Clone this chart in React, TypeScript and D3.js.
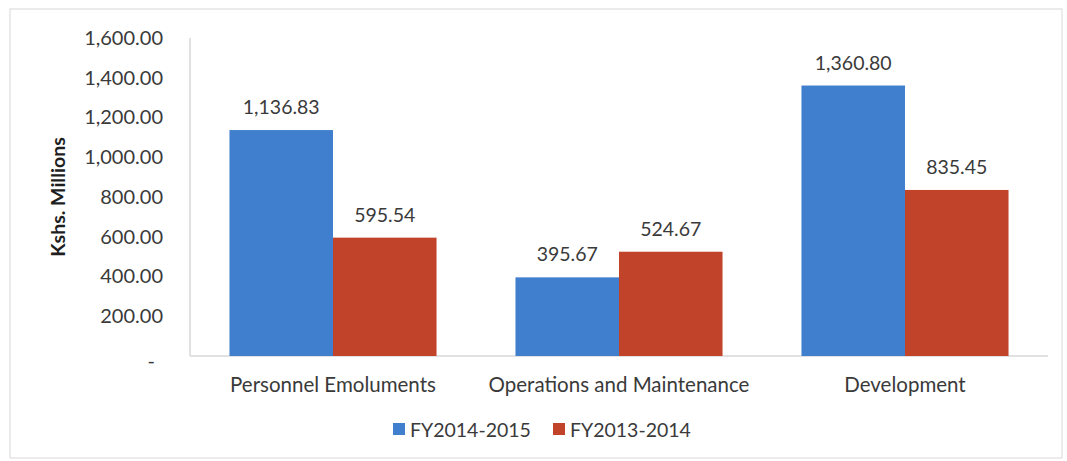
import React, { useEffect, useRef } from 'react';
import * as d3 from 'd3';

const categories = ['Personnel Emoluments', 'Operations and Maintenance', 'Development'];
const seriesNames = ['FY2014-2015', 'FY2013-2014'];
const fy2015 = [1136.83, 395.67, 1360.8];
const fy2014 = [595.54, 524.67, 835.45];
const yTicks = [0, 200, 400, 600, 800, 1000, 1200, 1400, 1600];
const colors = ['#3f7fcd', '#c1432a'];

const FONT = 'Lato, "Open Sans", sans-serif';

function BarChart({ width = 1067, height = 461 }) {
    const ref = useRef<SVGSVGElement>(null);

    useEffect(() => {
        const svg = d3.select(ref.current);
        svg.selectAll('*').remove();

        const left = 190, right = 1048, top = 38, bottom = 356;

        // outer frame
        svg.append('rect')
            .attr('x', 10).attr('y', 9)
            .attr('width', 1052).attr('height', 449)
            .attr('fill', '#fff')
            .attr('stroke', '#d8d8d8')
            .attr('stroke-width', 1);

        const y = d3.scaleLinear().domain([0, 1600]).range([bottom, top]);
        const x0 = d3.scaleBand().domain(categories).range([left, right])
            .paddingInner(0.276).paddingOuter(0.138);
        const x1 = d3.scaleBand().domain(seriesNames).range([0, x0.bandwidth()]);

        const rows = categories.map((c, i) => ({ cat: c, vals: [fy2015[i], fy2014[i]] }));

        // y axis labels
        const yAxis = d3.axisLeft(y).tickValues(yTicks).tickSize(0).tickPadding(27)
            .tickFormat(d => (+d === 0 ? '-' : d3.format(',.2f')(+d)));
        const ya = svg.append('g').attr('transform', `translate(${left},0)`).call(yAxis);
        ya.select('.domain').remove();
        ya.selectAll('text')
            .style('font-family', FONT).style('font-size', '20px').attr('fill', '#3a3a3a');
        ya.selectAll('.tick').filter(d => +d === 0).select('text')
            .attr('dy', '0.55em').attr('x', -35);

        // axis lines
        svg.append('line').attr('x1', left).attr('x2', left).attr('y1', top).attr('y2', bottom)
            .attr('stroke', '#c4c4c4');
        svg.append('line').attr('x1', left).attr('x2', right).attr('y1', bottom).attr('y2', bottom)
            .attr('stroke', '#c4c4c4');

        // bars
        const groups = svg.selectAll('g.cat').data(rows).enter().append('g')
            .attr('class', 'cat')
            .attr('transform', d => `translate(${x0(d.cat)},0)`);

        groups.selectAll('rect')
            .data(d => d.vals.map((v, i) => ({ key: seriesNames[i], v, i })))
            .enter().append('rect')
            .attr('x', d => x1(d.key))
            .attr('y', d => y(d.v))
            .attr('width', x1.bandwidth())
            .attr('height', d => bottom - y(d.v))
            .attr('fill', d => colors[d.i]);

        groups.selectAll('text.val')
            .data(d => d.vals.map((v, i) => ({ key: seriesNames[i], v })))
            .enter().append('text')
            .attr('class', 'val')
            .attr('x', d => x1(d.key) + x1.bandwidth() / 2)
            .attr('y', d => y(d.v) - 16)
            .attr('text-anchor', 'middle')
            .style('font-family', FONT).style('font-size', '19.5px')
            .attr('fill', '#3a3a3a')
            .text(d => d3.format(',.2f')(d.v));

        // category labels
        svg.selectAll('text.cat')
            .data(categories).enter().append('text')
            .attr('class', 'cat')
            .attr('x', d => x0(d) + x0.bandwidth() / 2)
            .attr('y', 392)
            .attr('text-anchor', 'middle')
            .style('font-family', FONT).style('font-size', '20.5px')
            .attr('fill', '#3a3a3a')
            .text(d => d);

        // y axis title
        svg.append('text')
            .attr('transform', `translate(65,197) rotate(-90)`)
            .attr('text-anchor', 'middle')
            .style('font-family', FONT).style('font-size', '19.5px').style('font-weight', 'bold')
            .attr('fill', '#1e1e1e')
            .text('Kshs. Millions');

        // legend
        const legendX = [393, 553];
        const legend = svg.selectAll('g.legend').data(seriesNames).enter().append('g')
            .attr('class', 'legend')
            .attr('transform', (d, i) => `translate(${legendX[i]},430)`);
        legend.append('rect')
            .attr('x', 0).attr('y', -7).attr('width', 12).attr('height', 12)
            .attr('fill', (d, i) => colors[i]);
        legend.append('text')
            .attr('x', 17).attr('y', 0).attr('dy', '0.35em')
            .style('font-family', FONT).style('font-size', '19.5px')
            .attr('fill', '#3a3a3a')
            .text(d => d);
    }, []);

    return (
        <svg ref={ref} width={width} height={height}
            style={{ position: 'absolute', left: 0, top: 0, background: '#fff' }}></svg>
    );
}

export default function App() {
    return <BarChart />;
}
